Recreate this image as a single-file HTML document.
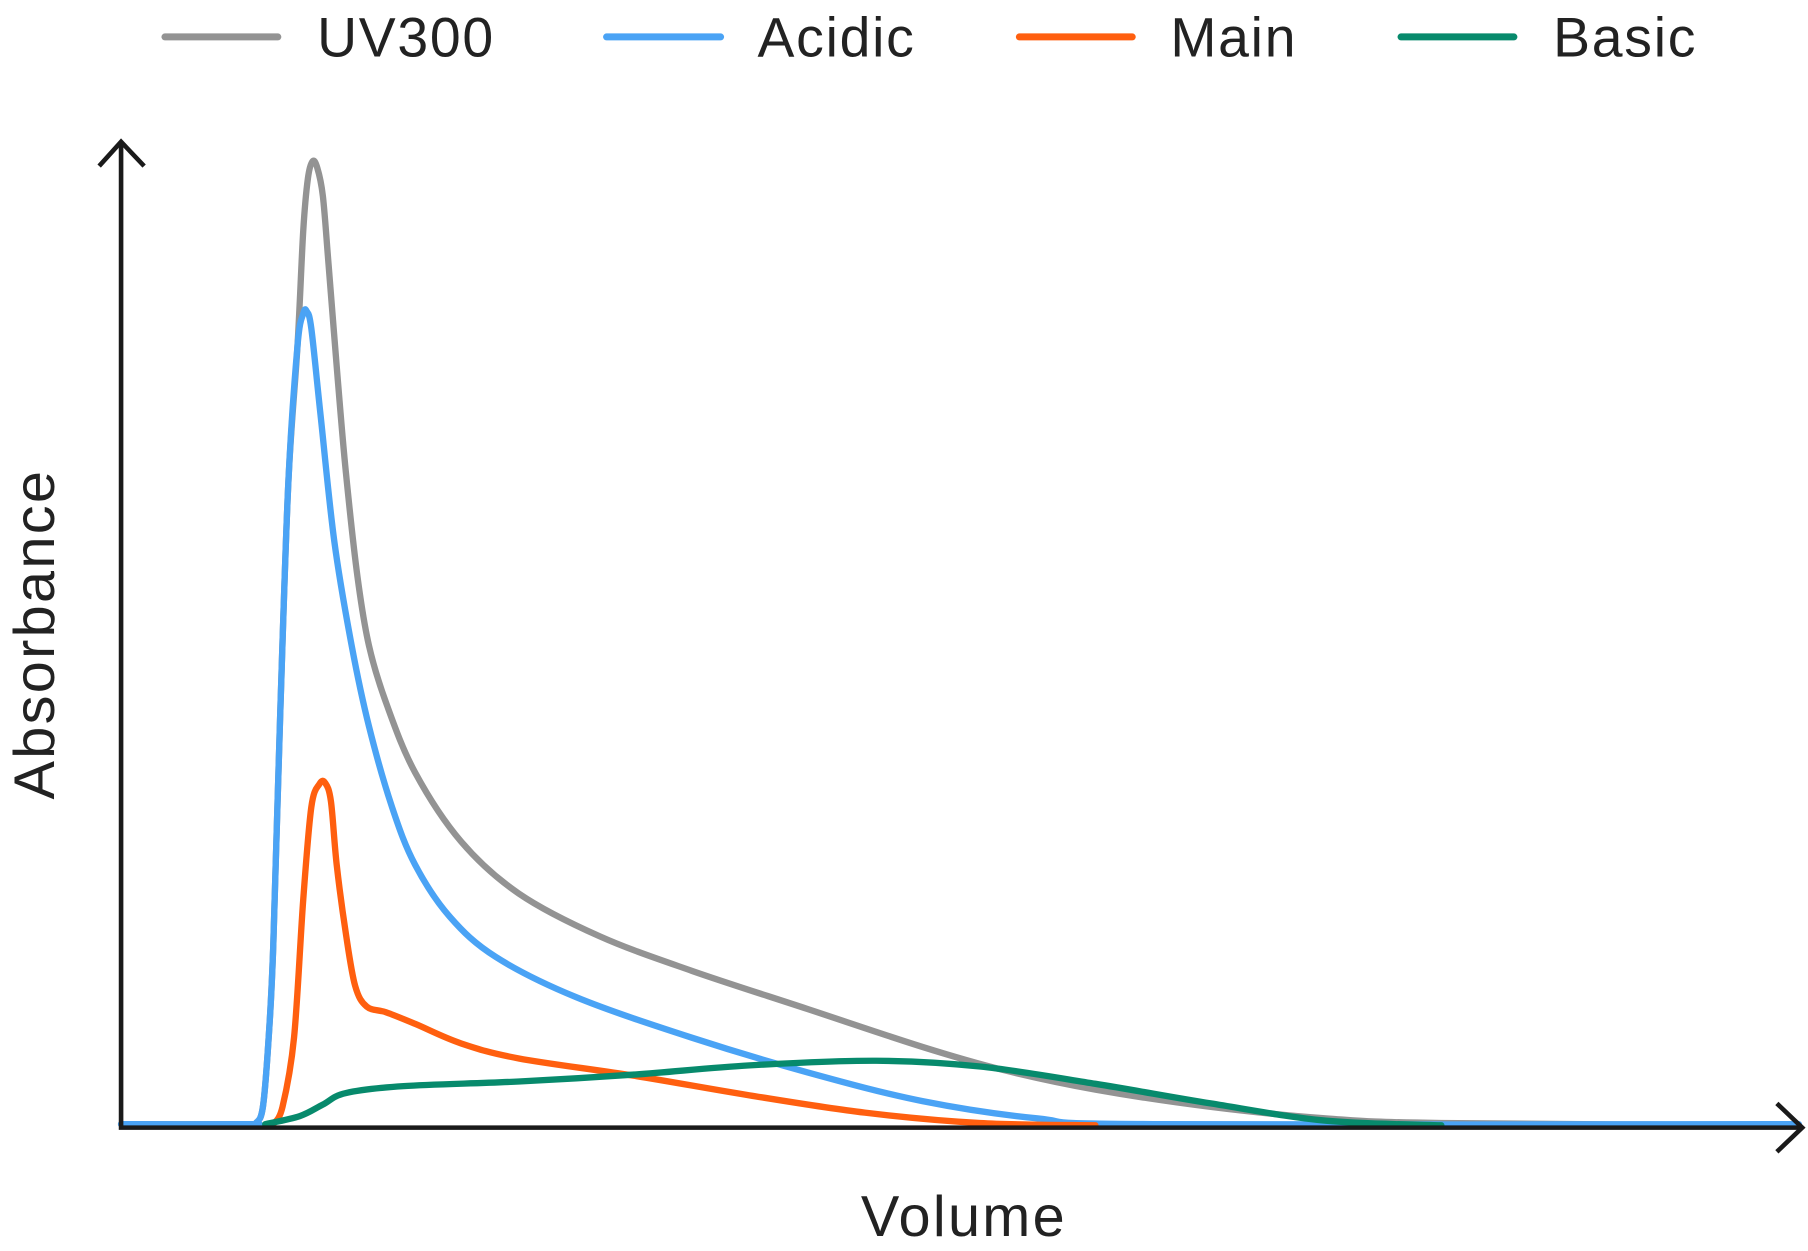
<!DOCTYPE html>
<html><head><style>html,body{margin:0;padding:0;background:#fff;}svg{display:block}</style></head>
<body>
<svg id="s" width="1808" height="1251" viewBox="0 0 1568 1085" preserveAspectRatio="none" xmlns="http://www.w3.org/2000/svg" font-family="Liberation Sans, sans-serif">
<rect width="1568" height="1085" fill="#fff"/>
<g stroke-linecap="round" stroke-width="6">
<line x1="143" y1="32" x2="241" y2="32" stroke="#939393"/>
<line x1="526" y1="32" x2="625" y2="32" stroke="#4aa3f5"/>
<line x1="884" y1="32" x2="982" y2="32" stroke="#ff5f0f"/>
<line x1="1215" y1="32" x2="1313" y2="32" stroke="#078a6c"/>
</g>
<g font-size="48" fill="#222" letter-spacing="1.5">
<text x="275" y="49">UV300</text>
<text x="657" y="49">Acidic</text>
<text x="1015" y="49">Main</text>
<text x="1347" y="49">Basic</text>
<text x="836" y="1072" text-anchor="middle" font-size="50" letter-spacing="2">Volume</text>
<text transform="translate(47,550) rotate(-90)" text-anchor="middle" font-size="50" letter-spacing="2">Absorbance</text>
</g>
<g fill="none" stroke-width="5.5" stroke-linejoin="round" stroke-linecap="round">
<polyline class="c" stroke="#939393" points="105,975 215,975 222,974 228,960 233,900 237,820 243,620 250,420 258,300 263,200 267,155 271,140 275,145 280,170 285,230 293,330 300,410 310,500 320,560 335,610 360,670 400,730 450,775 520,812 600,842 700,875 800,908 870,928 950,945 1050,960 1150,970 1250,974 1560,976"/>
<polyline class="c" stroke="#4aa3f5" points="105,975 215,975 222,974 228,960 233,900 237,820 243,620 250,420 258,300 263,272 266,270 270,285 278,360 290,470 305,560 320,630 340,700 360,750 390,795 430,830 500,865 600,900 700,930 800,955 900,970 1000,975 1560,975"/>
<polyline class="c" stroke="#ff5f0f" points="237,975 245,960 255,900 263,780 270,700 277,680 282,679 287,695 292,750 300,810 308,855 318,873 335,878 360,888 400,905 450,918 550,933 650,950 750,965 850,974 950,976"/>
<polyline class="c" stroke="#078a6c" points="230,975 260,968 280,958 300,948 350,942 450,938 550,932 650,924 760,920 850,925 950,940 1050,957 1150,972 1250,976"/>
</g>
<g fill="none" stroke="#1a1a1a" stroke-width="4">
<polyline points="105,124 105,978 1562,978"/>
<polyline points="86,144 105,123 125,144"/>
<polyline points="1541,957 1563,978 1541,999"/>
</g>
</svg>
<script>
document.querySelectorAll('polyline.c').forEach(function(pl){
 var p=pl.getAttribute('points').trim().split(/\s+/).map(function(s){return s.split(',').map(Number);});
 var d='M'+p[0][0]+','+p[0][1];
 for(var i=0;i<p.length-1;i++){
  var p0=p[i-1]||p[i],p1=p[i],p2=p[i+1],p3=p[i+2]||p2;
  var c1=[p1[0]+(p2[0]-p0[0])/6,p1[1]+(p2[1]-p0[1])/6];
  var c2=[p2[0]-(p3[0]-p1[0])/6,p2[1]-(p3[1]-p1[1])/6];
  d+=' C'+c1+' '+c2+' '+p2;
 }
 var path=document.createElementNS('http://www.w3.org/2000/svg','path');
 path.setAttribute('d',d);path.setAttribute('stroke',pl.getAttribute('stroke'));
 pl.parentNode.replaceChild(path,pl);
});
</script>
</body></html>
